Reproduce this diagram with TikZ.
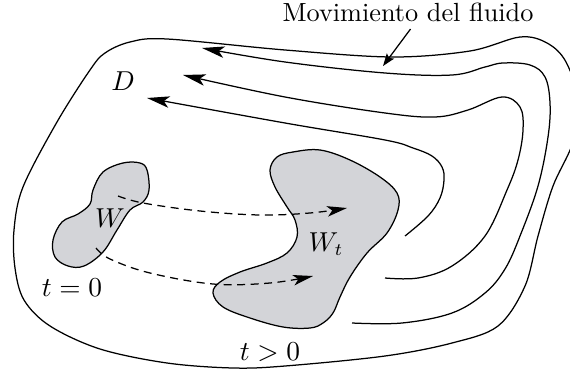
\documentclass[tikz,border=0pt]{standalone}
\usetikzlibrary{arrows.meta}
\definecolor{blobgray}{RGB}{211,212,216}
\begin{document}
\begin{tikzpicture}[x=0.4pt,y=-0.4pt,
  curve/.style={line width=0.5pt, black},
  flow/.style={curve, -{Stealth[length=9pt,width=4.6pt,inset=2.2pt]}},
  blob/.style={curve, fill=blobgray},
  track/.style={line width=0.5pt, dash pattern=on 3.2pt off 2.2pt, -{Stealth[length=8pt,width=4.2pt,inset=2pt]}},
  lab/.style={inner sep=0pt, font=\fontsize{10.5}{12}\selectfont}]
\useasboundingbox (0,0) rectangle (570,372);
\begin{scope}
\clip (0,0) rectangle (570,372);
% domain boundary D
\draw[curve] plot[smooth cycle, tension=0.55] coordinates {
 (167,39) (285,50) (392,57) (470,51) (520,37) (547,43) (566,62) (580,105)
 (572,145) (553,186) (538,236) (525,286) (498,326) (452,343) (385,356)
 (285,366) (233,368) (167,363) (100,349) (50,326) (24,300) (15,268) (14,230)
 (23,187) (57,122) (90,70) (105,53) (130,42)};
\end{scope}
% streamlines
\draw[flow] plot[smooth, tension=0.6] coordinates {
 (352,323) (402,323) (452,313) (485,293) (505,269) (520,236) (538,186) (548,137)
 (550,103) (545,77) (530,65) (503,63) (485,67) (452,75) (385,73) (285,62) (202,48)};
\draw[flow] plot[smooth, tension=0.6] coordinates {
 (385,278) (418,278) (452,266) (485,236) (507,190) (518,160) (523,130) (520,107)
 (502,97) (468,110) (435,117) (385,113) (285,97) (183,75)};
\draw[flow] plot[smooth, tension=0.6] coordinates {
 (405,236) (428,216) (440,198) (444,180) (442,167) (432,156) (413,148) (385,140)
 (285,123) (147,98)};
% region W
\draw[blob] plot[smooth cycle, tension=0.6] coordinates {
 (147,170) (140,163) (123,163) (103,172) (93,190) (90,204) (78,214) (62,222)
 (53,240) (55,257) (68,266) (84,266) (103,252) (117,230) (130,210) (143,202)
 (149,190)};
% region W_t
\draw[blob] plot[smooth cycle, tension=0.6] coordinates {
 (293,152) (320,150) (350,160) (380,177) (397,193) (398,210) (387,233)
 (367,253) (350,277) (340,297) (333,313) (323,323) (310,328) (283,327)
 (250,318) (223,307) (213,293) (220,282) (240,272) (267,263) (287,253)
 (297,237) (295,220) (287,207) (275,187) (270,170) (277,157)};
% trajectories
\draw[track] plot[smooth, tension=0.6] coordinates {
 (118,196) (143,203) (200,211) (260,215) (310,213) (347,208)};
\draw[track] plot[smooth, tension=0.6] coordinates {
 (96,248) (110,259) (150,273) (213,284) (270,283) (313,276)};
% labels
\node[lab] (D) at (123,81) {$D$};
\node[lab] (W) at (110,218) {$W$};
\node[lab] (Wt) at (326,244) {$W_t$};
\node[lab] (t0) at (72,288) {$t=0$};
\node[lab] (tp) at (270,352) {$t>0$};
\node[lab, anchor=base] (mov) at (408,22) {Movimiento del fluido};
\coordinate (mtip) at (383,66);
\draw[curve, -{Stealth[length=5pt,width=3.6pt,inset=1pt]}] ([xshift=1pt,yshift=-2.5pt]mov.south) -- (mtip);
\end{tikzpicture}
\end{document}
